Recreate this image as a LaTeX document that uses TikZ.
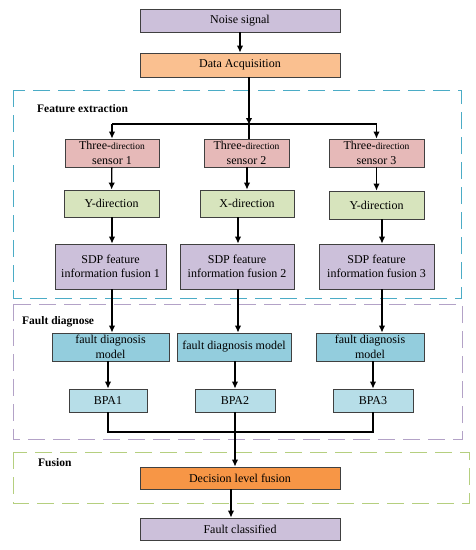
\documentclass[tikz,border=0pt]{standalone}
\usepackage{fontspec}
\setmainfont{Liberation Serif}
\usepackage{xcolor}
\usepackage{tikz}
\usetikzlibrary{arrows.meta,positioning,calc}
\definecolor{sigpurple}{HTML}{CCC0DA}
\definecolor{acqpeach}{HTML}{FAC090}
\definecolor{senpink}{HTML}{E6B9B8}
\definecolor{dirgreen}{HTML}{D7E4BD}
\definecolor{modteal}{HTML}{93CDDD}
\definecolor{bpablue}{HTML}{B7DEE8}
\definecolor{fusorange}{HTML}{F79646}
\definecolor{regblue}{HTML}{4BACC6}
\definecolor{regpurple}{HTML}{B3A2C7}
\definecolor{reggreen}{HTML}{B5CF7F}
\tikzset{
  lbox/.style={draw=black!75, line width=0.8pt, align=center, font=\fontsize{12}{14.5}\selectfont,
               inner sep=1pt, minimum height=23pt},
  sigbox/.style={lbox, fill=sigpurple, minimum width=200pt},
  acqbox/.style={lbox, fill=acqpeach, minimum width=200pt},
  senbox/.style={lbox, fill=senpink, minimum height=28pt},
  dirbox/.style={lbox, fill=dirgreen, minimum height=27pt},
  sdpbox/.style={lbox, fill=sigpurple, minimum height=45pt},
  modbox/.style={lbox, fill=modteal, minimum height=28pt},
  bpabox/.style={lbox, fill=bpablue, minimum height=23pt},
  fusbox/.style={lbox, fill=fusorange, minimum width=200pt, minimum height=22pt},
  region/.style={line width=1pt, dash pattern=on 17pt off 8pt},
  rlabel/.style={anchor=west, font=\fontsize{11.5}{13}\selectfont\bfseries, inner sep=0pt},
  flow/.style={-{Latex[length=7pt,width=6.5pt]}, line width=1.3pt},
  link/.style={line width=1.3pt},
}
\newcommand{\sml}[1]{{\fontsize{9.5}{11}\selectfont #1}}
\begin{document}
\begin{tikzpicture}[x=1pt, y=-1pt]
  \useasboundingbox (0,0) rectangle (475,550);
  % dashed regions
  \draw[region, regblue] (13,90) rectangle (461,298);
  \draw[region, regpurple] (13,304) rectangle (462,439);
  \draw[region, reggreen] (13,452) rectangle (469,503);
  \node[rlabel] (featlbl) at (37,109) {Feature extraction};
  \node[rlabel] (diaglbl) at (22,322) {Fault diagnose};
  \node[rlabel] (fuslbl) at (38,463) {Fusion};

  % top
  \node[sigbox] (noise) at (240,20.5) {Noise signal};
  \node[acqbox, minimum height=24pt] (daq) at (240,65) {Data Acquisition};

  % sensors
  \node[senbox, minimum width=94pt] (sen1) at (112,153) {Three-\sml{direction}\\ sensor 1};
  \node[senbox, minimum width=85pt] (sen2) at (246.5,153) {Three-\sml{direction}\\ sensor 2};
  \node[senbox, minimum width=95pt] (sen3) at (376.5,153) {Three-\sml{direction}\\ sensor 3};

  \node[dirbox, minimum width=95pt] (dir1) at (111.5,203.5) {Y-direction};
  \node[dirbox, minimum width=94pt] (dir2) at (247,203.5) {X-direction};
  \node[dirbox, minimum width=95pt, minimum height=28pt] (dir3) at (376.5,205) {Y-direction};

  \node[sdpbox, minimum width=111pt] (sdp1) at (110.5,266.5) {SDP feature\\ information fusion 1};
  \node[sdpbox, minimum width=114pt] (sdp2) at (237,266.5) {SDP feature\\ information fusion 2};
  \node[sdpbox, minimum width=115pt] (sdp3) at (376.5,266.5) {SDP feature\\ information fusion 3};

  % diagnosis
  \node[modbox, minimum width=117pt] (mod1) at (110.5,347) {fault diagnosis\\ model};
  \node[modbox, minimum width=114pt] (mod2) at (234,347) {fault diagnosis model};
  \node[modbox, minimum width=108pt] (mod3) at (370,347) {fault diagnosis\\ model};

  \node[bpabox, minimum width=78pt] (bpa1) at (108,400.5) {BPA1};
  \node[bpabox, minimum width=80pt] (bpa2) at (235,400.5) {BPA2};
  \node[bpabox, minimum width=80pt] (bpa3) at (373,400.5) {BPA3};

  % fusion
  \node[fusbox] (dlf) at (240,478) {Decision level fusion};
  \node[sigbox, minimum height=22pt] (fc) at (240,529) {Fault classified};

  \coordinate (split) at (249,124);
  \coordinate (merge) at (235,432);

  \draw[flow] (noise) -- (daq);
  \draw[flow] (daq.south -| split) -- ([yshift=-1pt]split);
  \draw[link] (split -| sen1) -- (split -| sen3);
  \draw[link] (split) -- (split |- sen2.north);
  \draw[flow] (split -| sen1) -- (sen1.north);
  \draw[flow] (split -| sen3) -- (sen3.north);

  \draw[flow] (sen1) -- (dir1);
  \draw[flow] (sen2.south -| 247,0) -- (dir2.north -| 247,0);
  \draw[flow] (sen3) -- (dir3);

  \draw[flow] (dir1.south -| 112,0) -- (sdp1.north -| 112,0);
  \draw[flow] (dir2.south -| 238,0) -- (sdp2.north -| 238,0);
  \draw[flow] (dir3.south -| 382,0) -- (sdp3.north -| 382,0);

  \draw[flow] (sdp1.south -| 112,0) -- (mod1.north -| 112,0);
  \draw[flow] (sdp2.south -| 238,0) -- (mod2.north -| 238,0);
  \draw[flow] (sdp3.south -| 382,0) -- (mod3.north -| 382,0);

  \draw[flow] (mod1.south -| bpa1) -- (bpa1.north);
  \draw[flow] (mod2.south -| bpa2) -- (bpa2.north);
  \draw[flow] (mod3.south -| bpa3) -- (bpa3.north);

  \draw[link] (bpa1.south) |- (merge) -| (bpa3.south);
  \draw[link] (bpa2.south) -- (merge);
  \draw[flow] (merge) -- (merge |- dlf.north);
  \draw[flow] ([xshift=-9pt]dlf.south) -- ([xshift=-9pt]fc.north);
\end{tikzpicture}
\end{document}
